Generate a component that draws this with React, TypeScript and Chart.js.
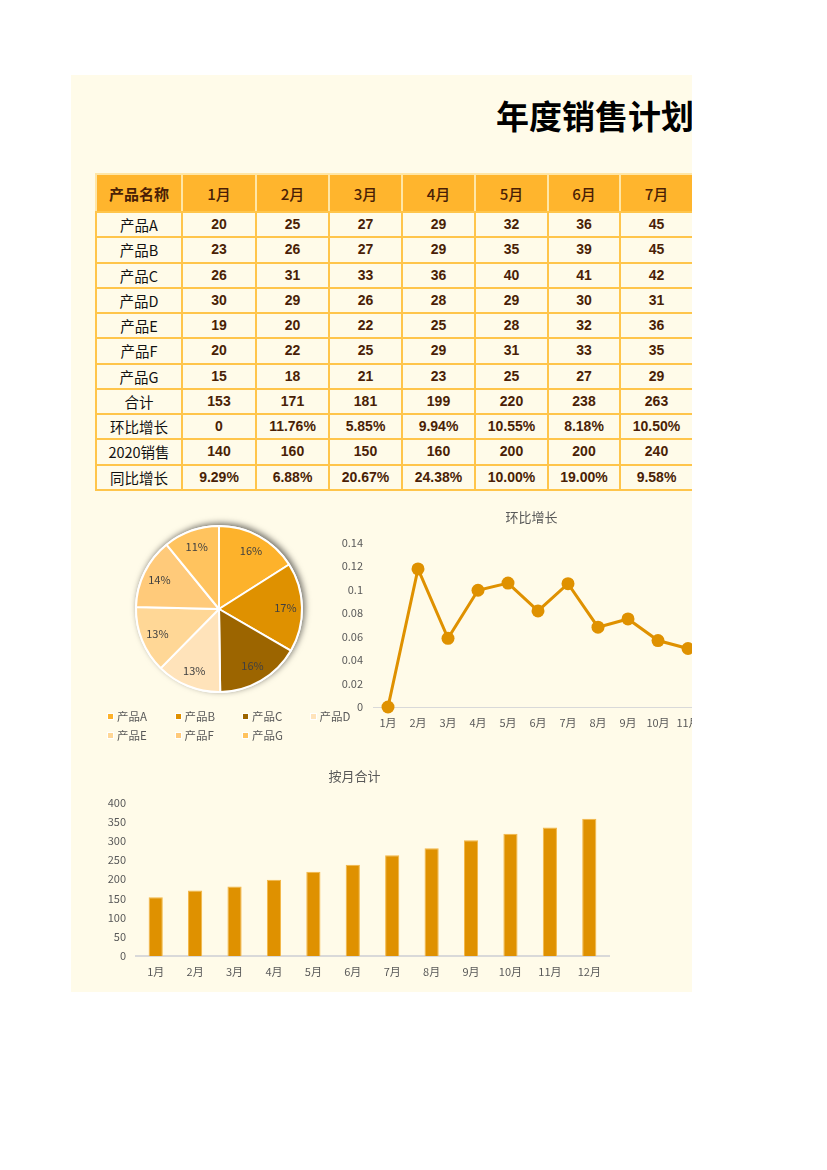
import React, { useEffect, useRef } from "react";
import { Chart, registerables } from "chart.js";

Chart.register(...registerables);

// ---------- data ----------
const tableMonths = ["1月", "2月", "3月", "4月", "5月", "6月", "7月"];
const productNames = ["产品A", "产品B", "产品C", "产品D", "产品E", "产品F", "产品G"];
const productA = [20, 25, 27, 29, 32, 36, 45];
const productB = [23, 26, 27, 29, 35, 39, 45];
const productC = [26, 31, 33, 36, 40, 41, 42];
const productD = [30, 29, 26, 28, 29, 30, 31];
const productE = [19, 20, 22, 25, 28, 32, 36];
const productF = [20, 22, 25, 29, 31, 33, 35];
const productG = [15, 18, 21, 23, 25, 27, 29];
const totalRow = [153, 171, 181, 199, 220, 238, 263];
const momRow = ["0", "11.76%", "5.85%", "9.94%", "10.55%", "8.18%", "10.50%"];
const sales2020 = [140, 160, 150, 160, 200, 200, 240];
const yoyRow = ["9.29%", "6.88%", "20.67%", "24.38%", "10.00%", "19.00%", "9.58%"];

const chartMonths = ["1月", "2月", "3月", "4月", "5月", "6月", "7月", "8月", "9月", "10月", "11月", "12月"];
const momGrowth = [0, 0.1176, 0.0585, 0.0994, 0.1055, 0.0818, 0.105, 0.068, 0.075, 0.0566, 0.0498, 0.0687];
const monthTotals = [153, 171, 181, 199, 220, 238, 263, 281, 302, 319, 335, 358];

const pieValues = [483, 525, 495, 381, 393, 414, 329];
const pieColors = ["#FDB22B", "#DF9100", "#9C6500", "#FFE3BA", "#FFD796", "#FFCA7A", "#FFC35E"];

const BG = "#FFFBE9";
const GRAY = "#595959";
const CJK = '"Noto Sans CJK SC", "Noto Sans", sans-serif';

// ---------- charts ----------
function PieChart() {
  const ref = useRef<HTMLCanvasElement>(null);
  useEffect(() => {
    const shadow = {
      id: "pieShadow",
      beforeDatasetsDraw(chart: any) {
        const arc = chart.getDatasetMeta(0).data[0];
        if (!arc) return;
        const ctx = chart.ctx;
        ctx.save();
        ctx.shadowColor = "rgba(0,0,0,0.55)";
        ctx.shadowBlur = 6;
        ctx.shadowOffsetX = 2;
        ctx.shadowOffsetY = -2;
        ctx.beginPath();
        ctx.arc(arc.x, arc.y, arc.outerRadius + 1, 0, Math.PI * 2);
        ctx.fillStyle = "#ffffff";
        ctx.fill();
        ctx.restore();
      },
      afterDatasetsDraw(chart: any) {
        const meta = chart.getDatasetMeta(0);
        const data = chart.data.datasets[0].data as number[];
        const total = data.reduce((a, b) => a + b, 0);
        const ctx = chart.ctx;
        ctx.save();
        ctx.font = `11px ${CJK}`;
        ctx.fillStyle = "#404040";
        ctx.textAlign = "center";
        ctx.textBaseline = "middle";
        meta.data.forEach((arc: any, i: number) => {
          const mid = (arc.startAngle + arc.endAngle) / 2;
          const r = arc.outerRadius * 0.8;
          const x = arc.x + Math.cos(mid) * r;
          const y = arc.y + Math.sin(mid) * r;
          ctx.fillText(Math.round((data[i] / total) * 100) + "%", x, y);
        });
        ctx.restore();
      },
    };
    const chart = new Chart(ref.current!, {
      type: "pie",
      data: {
        labels: productNames,
        datasets: [
          {
            data: pieValues,
            backgroundColor: pieColors,
            borderColor: "#ffffff",
            borderWidth: 2,
          },
        ],
      },
      options: {
        animation: false,
        responsive: false,
        layout: { padding: 16 },
        plugins: { legend: { display: false }, tooltip: { enabled: false } },
      },
      plugins: [shadow],
    });
    return () => chart.destroy();
  }, []);
  return <canvas ref={ref} width={200} height={200} style={{ position: "absolute", left: 48, top: 434, width: 200, height: 200 }} />;
}

function LineChart() {
  const ref = useRef<HTMLCanvasElement>(null);
  useEffect(() => {
    const chart = new Chart(ref.current!, {
      type: "line",
      data: {
        labels: chartMonths,
        datasets: [
          {
            data: momGrowth,
            borderColor: "#DF9100",
            backgroundColor: "#DF9100",
            borderWidth: 3,
            pointRadius: 6.5,
            pointBorderWidth: 0,
            pointBackgroundColor: "#DF9100",
            tension: 0,
            clip: false as any,
          },
        ],
      },
      options: {
        animation: false,
        responsive: false,
        layout: { padding: { left: 0, right: 21, top: 0, bottom: 0 } },
        plugins: {
          legend: { display: false },
          tooltip: { enabled: false },
          title: {
            display: true,
            text: "环比增长",
            color: GRAY,
            font: { family: CJK, size: 13, weight: "normal" },
            padding: { top: 4, bottom: 18 },
          },
        },
        scales: {
          x: {
            offset: true,
            grid: { display: false, drawTicks: false },
            border: { display: true, color: "#D9D9D9", width: 1 },
            ticks: { color: GRAY, font: { family: CJK, size: 11 }, padding: 9, maxRotation: 0, autoSkip: false },
            afterFit: (s: any) => { s.height = 38; },
          },
          y: {
            min: 0,
            max: 0.14,
            grid: { display: false, drawTicks: false },
            border: { display: false },
            ticks: {
              stepSize: 0.02,
              color: GRAY,
              font: { family: CJK, size: 11 },
              padding: 10,
              callback: (v: any) => String(Number(Number(v).toFixed(2))),
            },
            afterFit: (s: any) => { s.width = 43; },
          },
        },
      },
    });
    return () => chart.destroy();
  }, []);
  return <canvas ref={ref} width={424} height={240} style={{ position: "absolute", left: 259, top: 430, width: 424, height: 240 }} />;
}

function BarChart() {
  const ref = useRef<HTMLCanvasElement>(null);
  useEffect(() => {
    const chart = new Chart(ref.current!, {
      type: "bar",
      data: {
        labels: chartMonths,
        datasets: [
          {
            data: monthTotals,
            backgroundColor: "#DF9100",
            borderColor: "#F3B746",
            borderWidth: 1,
            barPercentage: 0.36,
            categoryPercentage: 1,
          },
        ],
      },
      options: {
        animation: false,
        responsive: false,
        layout: { padding: { left: 0, right: 15, top: 0, bottom: 0 } },
        plugins: {
          legend: { display: false },
          tooltip: { enabled: false },
          title: {
            display: true,
            text: "按月合计",
            color: GRAY,
            font: { family: CJK, size: 13, weight: "normal" },
            padding: { top: 3, bottom: 19 },
          },
        },
        scales: {
          x: {
            grid: { display: false, drawTicks: false },
            border: { display: true, color: "#D9D9D9", width: 2 },
            ticks: { color: GRAY, font: { family: CJK, size: 11 }, padding: 9, maxRotation: 0, autoSkip: false },
            afterFit: (s: any) => { s.height = 29; },
          },
          y: {
            min: 0,
            max: 400,
            grid: { display: false, drawTicks: false },
            border: { display: false },
            ticks: { stepSize: 50, color: GRAY, font: { family: CJK, size: 11 }, padding: 10 },
            afterFit: (s: any) => { s.width = 36; },
          },
        },
      },
    });
    return () => chart.destroy();
  }, []);
  return <canvas ref={ref} width={524} height={220} style={{ position: "absolute", left: 29, top: 690, width: 524, height: 220 }} />;
}

// ---------- table ----------
const colWidths = [86, 74, 73, 73, 73, 73, 72, 73];

function Cell({ children, first }: { children: React.ReactNode; first?: boolean }) {
  return (
    <td
      style={{
        border: "2px solid #FFC54B",
        height: 23.25,
        padding: 0,
        textAlign: "center",
        background: BG,
        color: first ? "#111" : "#4A1F06",
        fontFamily: first ? CJK : '"Liberation Sans", Arial, sans-serif',
        fontWeight: first ? 400 : 700,
        fontSize: first ? 14.5 : 14,
        whiteSpace: "nowrap",
        lineHeight: "23px",
      }}
    >
      {children}
    </td>
  );
}

function DataTable() {
  const rows: [string, (string | number)[]][] = [
    [productNames[0], productA],
    [productNames[1], productB],
    [productNames[2], productC],
    [productNames[3], productD],
    [productNames[4], productE],
    [productNames[5], productF],
    [productNames[6], productG],
    ["合计", totalRow],
    ["环比增长", momRow],
    ["2020销售", sales2020],
    ["同比增长", yoyRow],
  ];
  return (
    <table
      style={{
        position: "absolute",
        left: 24,
        top: 98,
        borderCollapse: "collapse",
        tableLayout: "fixed",
        width: colWidths.reduce((a, b) => a + b, 0),
      }}
    >
      <colgroup>
        {colWidths.map((w, i) => (
          <col key={i} style={{ width: w }} />
        ))}
      </colgroup>
      <thead>
        <tr>
          {["产品名称", ...tableMonths].map((h, i) => (
            <th
              key={i}
              style={{
                background: "#FFB52D",
                border: "2px solid #FFE6A6",
                borderBottom: "2px solid #FFC54B",
                height: 36,
                padding: 0,
                color: "#4A1F06",
                fontFamily: CJK,
                fontWeight: i === 0 ? 700 : 500,
                fontSize: 15,
                textAlign: "center",
              }}
            >
              {h}
            </th>
          ))}
        </tr>
      </thead>
      <tbody>
        {rows.map(([name, vals], r) => (
          <tr key={r}>
            <Cell first>{name}</Cell>
            {vals.map((v, c) => (
              <Cell key={c}>{v}</Cell>
            ))}
          </tr>
        ))}
      </tbody>
    </table>
  );
}

function PieLegend() {
  return (
    <div style={{ position: "absolute", left: 36, top: 632, width: 300 }}>
      {productNames.map((n, i) => {
        const col = i % 4;
        const row = Math.floor(i / 4);
        return (
          <div
            key={n}
            style={{
              position: "absolute",
              left: col * 67.5,
              top: row * 19,
              height: 18,
              display: "flex",
              alignItems: "center",
              whiteSpace: "nowrap",
            }}
          >
            <span
              style={{
                display: "inline-block",
                width: 5,
                height: 5,
                background: pieColors[i],
                border: "1px solid #fff",
                marginRight: 3,
              }}
            />
            <span style={{ fontFamily: CJK, fontSize: 11.5, color: GRAY }}>{n}</span>
          </div>
        );
      })}
    </div>
  );
}

export default function App() {
  return (
    <div
      style={{
        position: "absolute",
        left: 71,
        top: 75,
        width: 621,
        height: 917,
        background: BG,
        overflow: "hidden",
      }}
    >
      <div
        style={{
          position: "absolute",
          left: 425,
          top: 16,
          fontFamily: CJK,
          fontWeight: 700,
          fontSize: 33,
          color: "#000",
          whiteSpace: "nowrap",
          lineHeight: "48px",
        }}
      >
        年度销售计划表
      </div>
      <DataTable />
      <PieChart />
      <PieLegend />
      <LineChart />
      <BarChart />
    </div>
  );
}
